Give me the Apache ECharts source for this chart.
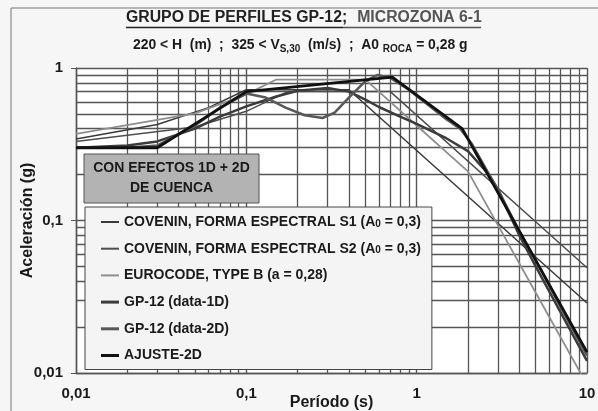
<!DOCTYPE html>
<html>
<head>
<meta charset="utf-8">
<script src="https://cdn.jsdelivr.net/npm/echarts@6/dist/echarts.min.js"></script>
<style>
  html, body { margin: 0; padding: 0; background: #f6f6f6; }
  #chart { width: 598px; height: 411px; }
</style>
</head>
<body>
<div id="chart"></div>
<script>
  // espectros [periodo (s), aceleracion (g)]
  const coveninS1 = [[0.01, 0.342], [0.03, 0.426], [0.06, 0.55], [0.1, 0.72], [0.4, 0.72], [1, 0.288], [10, 0.0288]]
  const coveninS2 = [[0.01, 0.33], [0.05, 0.41], [0.1, 0.52], [0.175, 0.70], [0.7, 0.70], [10, 0.049]]
  const eurocodeB = [[0.01, 0.37], [0.05, 0.504], [0.1, 0.672], [0.15, 0.84], [0.5, 0.84], [0.7, 0.6], [1, 0.42],
    [1.5, 0.28], [2, 0.21], [3, 0.0933], [5, 0.0336], [10, 0.0084]]
  const gp12data1D = [[0.01, 0.30], [0.02, 0.31], [0.03, 0.33], [0.05, 0.40], [0.07, 0.48], [0.1, 0.56], [0.15, 0.65],
    [0.2, 0.71], [0.3, 0.74], [0.4, 0.70], [0.5, 0.62], [0.6, 0.555], [0.8, 0.48], [1, 0.43], [1.5, 0.345], [2, 0.285],
    [2.6, 0.205], [3, 0.16], [4, 0.08], [5, 0.05], [7, 0.025], [10, 0.012]]
  const gp12data2D = [[0.01, 0.30], [0.02, 0.30], [0.03, 0.31], [0.05, 0.42], [0.07, 0.55], [0.1, 0.68], [0.13, 0.64],
    [0.17, 0.55], [0.22, 0.49], [0.28, 0.47], [0.33, 0.51], [0.4, 0.64], [0.5, 0.82], [0.59, 0.90], [0.7, 0.86],
    [0.9, 0.72], [1.2, 0.56], [1.5, 0.46], [1.8, 0.40], [2.1, 0.32], [2.6, 0.21], [3, 0.16], [4, 0.085], [5, 0.055],
    [7, 0.027], [10, 0.013]]
  const ajuste2D = [[0.01, 0.30], [0.03, 0.30], [0.1, 0.70], [0.72, 0.87], [1.85, 0.40], [10, 0.0137]]

  const xGridMinor = [0.02, 0.03, 0.04, 0.05, 0.06, 0.07, 0.08, 0.09, 0.2, 0.3, 0.4, 0.5, 0.6, 0.7, 0.8, 0.9,
    2, 3, 4, 5, 6, 7, 8, 9]
  const yGridMinor = [0.02, 0.03, 0.04, 0.05, 0.06, 0.07, 0.08, 0.09, 0.2, 0.3, 0.4, 0.5, 0.6, 0.7, 0.8, 0.9]

  const names = {
    s1: 'COVENIN, FORMA ESPECTRAL S1 (A0 = 0,3)',
    s2: 'COVENIN, FORMA ESPECTRAL S2 (A0 = 0,3)',
    ec: 'EUROCODE, TYPE B (a = 0,28)',
    d1: 'GP-12 (data-1D)',
    d2: 'GP-12 (data-2D)',
    aj: 'AJUSTE-2D'
  }

  const font = '"Liberation Sans", Arial, sans-serif'
  const gridColor = '#555'
  const thinIcon = 'path://M0,0H18V2H0Z'
  const thickIcon = 'path://M0,0H18V3H0Z'

  function fmt (v) {
    return String(Number(v.toPrecision(3))).replace('.', ',')
  }

  function line (name, data, color, width) {
    return {
      name: name,
      type: 'line',
      data: data,
      symbol: 'none',
      smooth: false,
      z: 3,
      lineStyle: { color: color, width: width },
      itemStyle: { color: color }
    }
  }

  const chart = echarts.init(document.getElementById('chart'))
  const option = {
    animation: false,
    backgroundColor: '#f6f6f6',
    title: [
      {
        text: '{a|GRUPO DE PERFILES GP-12;}  {b|MICROZONA 6-1}',
        left: 121,
        top: 4,
        textStyle: {
          rich: {
            a: { fontFamily: font, fontWeight: 'bold', fontSize: 15.8, color: '#222' },
            b: { fontFamily: font, fontWeight: 'bold', fontSize: 15.8, color: '#555' }
          }
        }
      },
      {
        text: '{n|220 < H  (m)  ;  325 < V}{s|S,30}{n|  (m/s)  ;  A0 }{s|ROCA}{n| = 0,28 g}',
        left: 128,
        top: 31,
        textStyle: {
          rich: {
            n: { fontFamily: font, fontWeight: 'bold', fontSize: 13.9, color: '#1a1a1a', lineHeight: 18 },
            s: { fontFamily: font, fontWeight: 'bold', fontSize: 10, color: '#1a1a1a', lineHeight: 18, verticalAlign: 'bottom', padding: [6, 0, 0, 0] }
          }
        }
      }
    ],
    grid: {
      left: 76, top: 68, right: 11, bottom: 38,
      outerBoundsMode: 'none',
      show: true, backgroundColor: '#fff', borderWidth: 0
    },
    xAxis: {
      type: 'log',
      logBase: 10,
      min: 0.01,
      max: 10,
      name: 'Período (s)',
      nameLocation: 'middle',
      nameGap: 22,
      nameMoveOverlap: false,
      nameTextStyle: { fontFamily: font, fontWeight: 'bold', fontSize: 16, color: '#1a1a1a' },
      axisLine: { lineStyle: { color: gridColor, width: 1.4 } },
      axisTick: { show: false },
      axisLabel: { formatter: fmt, fontFamily: font, fontWeight: 'bold', fontSize: 15, color: '#1a1a1a', margin: 13 },
      splitLine: { show: true, lineStyle: { color: gridColor, width: 1.4 } }
    },
    yAxis: {
      type: 'log',
      logBase: 10,
      min: 0.01,
      max: 1,
      name: 'Aceleración (g)',
      nameLocation: 'middle',
      nameGap: 40,
      nameMoveOverlap: false,
      nameTextStyle: { fontFamily: font, fontWeight: 'bold', fontSize: 16, color: '#1a1a1a' },
      axisLine: { lineStyle: { color: gridColor, width: 1.4 } },
      axisTick: { show: true, inside: false, length: 5, lineStyle: { color: gridColor } },
      axisLabel: { formatter: fmt, fontFamily: font, fontWeight: 'bold', fontSize: 15, color: '#1a1a1a', margin: 13 },
      splitLine: { show: true, lineStyle: { color: gridColor, width: 1.4 } }
    },
    legend: {
      orient: 'vertical',
      left: 85,
      top: 207,
      width: 348,
      z: 10,
      padding: [8, 11, 7, 16],
      itemGap: 12.7,
      itemWidth: 18,
      itemHeight: 14,
      backgroundColor: '#f4f4f4',
      borderColor: '#444',
      borderWidth: 1,
      data: [
        { name: names.s1, icon: thinIcon },
        { name: names.s2, icon: thinIcon },
        { name: names.ec, icon: thinIcon },
        { name: names.d1, icon: thickIcon },
        { name: names.d2, icon: thickIcon },
        { name: names.aj, icon: thickIcon }
      ],
      formatter: function (name) {
        return name.replace('A0', '{n|A}{s|0}').replace(/^(.*?)(\{n\|A\}.*)$/, '{n|$1}$2')
          .replace(/(\{s\|0\})(.*)$/, '$1{n|$2}')
      },
      textStyle: {
        fontFamily: font, fontWeight: 'bold', fontSize: 14, color: '#1a1a1a', lineHeight: 14,
        rich: {
          n: { fontFamily: font, fontWeight: 'bold', fontSize: 14, color: '#1a1a1a', lineHeight: 14 },
          s: { fontFamily: font, fontWeight: 'bold', fontSize: 10, color: '#1a1a1a', lineHeight: 14, verticalAlign: 'bottom' }
        }
      }
    },
    graphic: [
      {
        type: 'rect',
        shape: { x: 11, y: 8, width: 600, height: 420 },
        style: { fill: 'none', stroke: '#777', lineWidth: 1 },
        z: 0, silent: true
      },
      {
        type: 'rect',
        shape: { x: 84, y: 154, width: 175, height: 49 },
        style: { fill: '#b3b3b3', stroke: '#555', lineWidth: 1 },
        z: 10, silent: true
      },
      {
        type: 'text',
        x: 171.5, y: 178.5,
        style: {
          text: 'CON EFECTOS 1D + 2D\nDE CUENCA', align: 'center', verticalAlign: 'middle',
          font: 'bold 14px ' + font, fill: '#1a1a1a', lineHeight: 20
        },
        z: 11, silent: true
      },
      {
        type: 'line',
        shape: { x1: 126, y1: 27.5, x2: 343, y2: 27.5 },
        style: { stroke: '#222', lineWidth: 1.3 },
        z: 10, silent: true
      },
      {
        type: 'line',
        shape: { x1: 343, y1: 27.5, x2: 481, y2: 27.5 },
        style: { stroke: '#555', lineWidth: 1.3 },
        z: 10, silent: true
      }
    ],
    series: [
      line(names.s1, coveninS1, '#3a3a3a', 1.5),
      line(names.s2, coveninS2, '#4e4e4e', 1.5),
      line(names.ec, eurocodeB, '#8e8e8e', 1.8),
      line(names.d1, gp12data1D, '#3c3c3c', 2.5),
      line(names.d2, gp12data2D, '#585858', 2.5),
      line(names.aj, ajuste2D, '#111', 2.8),
      {
        type: 'line',
        data: [],
        silent: true,
        z: 1,
        markLine: {
          silent: true,
          z: 1,
          symbol: 'none',
          label: { show: false },
          animation: false,
          lineStyle: { color: gridColor, width: 1.3, type: 'solid' },
          data: xGridMinor.map(v => ({ xAxis: v })).concat(yGridMinor.map(v => ({ yAxis: v })))
        }
      }
    ]
  }
  chart.setOption(option)
  window.addEventListener('resize', function () {
    chart.resize()
  })
</script>
</body>
</html>
